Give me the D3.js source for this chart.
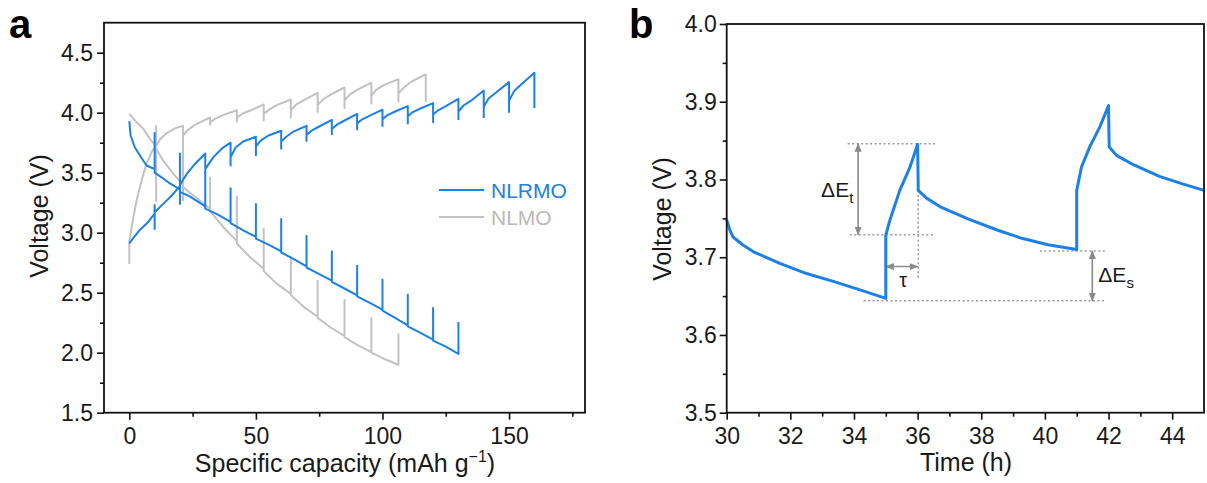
<!DOCTYPE html>
<html><head><meta charset="utf-8">
<script src="https://cdn.jsdelivr.net/npm/d3@7"></script>
<style>
body{margin:0;background:#fff;}
svg{display:block;font-family:"Liberation Sans",Arial,sans-serif;}
</style></head><body>
<svg id="c" width="1207" height="483"></svg>
<script>
// ---------- Panel a data: [capacity (mAh/g), voltage (V)] ----------
const nlrmoCharge = [
[0,2.91],[1,2.94],[4,3.02],[7.5,3.09],[10,3.16],
[10,3.03],[10,3.23],[10,3.17],
[13.4,3.24],[16.8,3.31],[20,3.39],
[20,3.24],[20,3.40],
[22.7,3.49],[26,3.575],[30,3.66],
[30,3.50],[30,3.53],
[33.2,3.63],[36.5,3.70],[40,3.75],
[40,3.56],[40,3.63],
[42,3.71],[45,3.76],[50,3.80],
[50,3.645],[50,3.72],
[52,3.77],[55,3.81],[60,3.85],
[60,3.70],[60,3.76],
[62,3.80],[65,3.845],[70,3.89],
[70,3.765],[70,3.815],
[72,3.85],[75,3.885],[80,3.94],
[80,3.82],[80,3.865],
[82,3.90],[85,3.935],[90,3.99],
[90,3.86],[90,3.91],
[92,3.945],[95,3.975],[100,4.025],
[100,3.89],[100,3.945],
[102,3.98],[105,4.01],[110,4.055],
[110,3.91],[110,3.97],
[112,4.005],[115,4.035],[120,4.08],
[120,3.92],[120,3.985],
[122,4.02],[125,4.055],[130,4.115],
[130,3.945],[130,4.01],
[132,4.06],[135,4.10],[140,4.185],
[140,3.963],[140,4.05],
[142,4.12],[145,4.17],[150,4.255],
[150,4.005],[150,4.10],
[152,4.18],[155,4.24],[160,4.333],
[160,4.04]
];
const nlrmoDischarge = [
[0,3.93],[0.5,3.81],[2.2,3.71],[4.9,3.62],[6.8,3.56],[10,3.53],
[10,3.83],[10,3.50],
[11.5,3.48],[15.4,3.42],[20,3.36],
[20,3.66],[20,3.34],
[24,3.30],[30,3.22],
[30,3.50],[30,3.20],
[35,3.15],[40,3.09],
[40,3.37],[40,3.08],
[45,3.02],[50,2.965],
[50,3.24],[50,2.95],
[55,2.90],[60,2.845],
[60,3.115],[60,2.835],
[65,2.78],[70,2.72],
[70,2.975],[70,2.71],
[75,2.655],[80,2.60],
[80,2.845],[80,2.59],
[85,2.535],[90,2.478],
[90,2.725],[90,2.47],
[95,2.415],[100,2.358],
[100,2.61],[100,2.35],
[105,2.29],[110,2.228],
[110,2.483],[110,2.22],
[115,2.165],[120,2.108],
[120,2.372],[120,2.10],
[125,2.05],[130,1.99],
[130,2.255]
];
const nlmoCharge = [
[0,2.74],[0,2.93],[0.5,2.99],[1.6,3.13],[2.9,3.27],[4.9,3.44],[6.8,3.575],[8.8,3.67],[10.6,3.73],
[10.6,3.26],[10.6,3.72],
[12.2,3.78],[14.8,3.83],[18.1,3.87],[21.2,3.89],
[21.2,3.27],[21.2,3.81],
[23,3.855],[26,3.90],[31.9,3.96],
[31.9,3.90],[31.9,3.92],
[34,3.95],[37,3.98],[42.5,4.02],
[42.5,3.925],[42.5,3.96],
[45,3.995],[48,4.02],[53.1,4.07],
[53.1,3.935],[53.1,3.99],
[55.5,4.03],[58.5,4.065],[63.8,4.11],
[63.8,3.96],[63.8,4.02],
[66,4.07],[69,4.105],[74.4,4.165],
[74.4,4.005],[74.4,4.065],
[76.5,4.11],[79.5,4.15],[85,4.21],
[85,4.04],[85,4.10],
[87,4.15],[90,4.19],[95.6,4.25],
[95.6,4.075],[95.6,4.14],
[97.5,4.19],[100.5,4.23],[106.3,4.28],
[106.3,4.094],[106.3,4.16],
[108.5,4.21],[111.5,4.26],[117.1,4.32],
[117.1,4.09]
];
const nlmoDischarge = [
[0,3.99],[2.9,3.92],[5.5,3.867],[8.2,3.78],[10.6,3.72],
[10.6,3.89],[10.6,3.70],
[13.4,3.60],[17.4,3.49],[21.2,3.40],
[21.2,3.70],[21.2,3.38],
[25.3,3.31],[31.9,3.20],
[31.9,3.46],[31.9,3.18],
[37,3.05],[42.5,2.93],
[42.5,3.30],[42.5,2.91],
[47.5,2.80],[53.1,2.70],
[53.1,3.03],[53.1,2.68],
[58,2.58],[63.8,2.49],
[63.8,2.80],[63.8,2.48],
[69,2.38],[74.4,2.30],
[74.4,2.60],[74.4,2.29],
[79.5,2.21],[85,2.14],
[85,2.44],[85,2.13],
[90,2.065],[95.6,2.005],
[95.6,2.29],[95.6,2.0],
[101,1.945],[106.3,1.90],
[106.3,2.16]
];
const seriesNames = ["NLRMO","NLMO"];
const capTicks = [0,50,100,150];
const capMinor = [25,75,125,175];
const voltTicksA = [1.5,2.0,2.5,3.0,3.5,4.0,4.5];
const voltMinorA = [1.75,2.25,2.75,3.25,3.75,4.25];

// ---------- Panel b data: [time (h), voltage (V)] ----------
const gittCurve = [
[30,3.748],[30.1,3.735],[30.2,3.726],[30.5,3.716],[30.84,3.707],[31.67,3.692],[32.51,3.679],[33.35,3.669],[34.19,3.658],[35.0,3.647],
[35.0,3.728],[35.13,3.748],[35.44,3.786],[35.76,3.816],[36.0,3.845],
[36.02,3.786],[36.28,3.776],[36.75,3.764],[37.6,3.749],[38.5,3.735],[39.3,3.724],[40.1,3.716],[41.0,3.710],
[41.0,3.786],[41.15,3.816],[41.41,3.842],[41.73,3.868],[42.0,3.895],
[42.02,3.842],[42.25,3.831],[42.78,3.819],[43.6,3.804],[44.35,3.794],[45.0,3.786]
];
const timeTicks = [30,32,34,36,38,40,42,44];
const timeMinor = [31,33,35,37,39,41,43];
const voltTicksB = [3.5,3.6,3.7,3.8,3.9,4.0];
const voltMinorB = [3.55,3.65,3.75,3.85,3.95];
// guide lines: [t1, t2, V] horizontal; [t, V1, V2] vertical
const guideH = [[33.8,36.6,3.846],[33.87,36.55,3.729],[34.3,41.9,3.644],[39.84,41.88,3.708]];
const guideV = [[36.02,3.786,3.671]];
// arrows
const arrowEt = [34.13, 3.846, 3.729];
const arrowTau = [3.688, 35.0, 36.0];
const arrowEs = [41.49, 3.708, 3.644];

const BLUE = "#1c80e4";
const GRAY = "#c2c2c2";
const AGRAY = "#8a8a8a";
const svg = d3.select("#c");

svg.append("defs").append("marker")
  .attr("id","ah").attr("viewBox","0 0 10 10").attr("refX",9).attr("refY",5)
  .attr("markerWidth",9).attr("markerHeight",9).attr("markerUnits","userSpaceOnUse")
  .attr("orient","auto-start-reverse")
  .append("path").attr("d","M0,1 L10,5 L0,9 Z").attr("fill",AGRAY);

function axes(g, x, y, xt, xm, yt, ym, xfmt, yfmt, ypad){
  const [x0,x1] = x.range(), [y0,y1] = y.range();
  const xa = g.append("g").attr("transform",`translate(0,${y0})`)
    .call(d3.axisBottom(x).tickValues(xt).tickSize(7).tickPadding(8).tickFormat(xfmt).tickSizeOuter(0));
  const xb = g.append("g").attr("transform",`translate(0,${y0})`)
    .call(d3.axisBottom(x).tickValues(xm).tickSize(4).tickFormat("").tickSizeOuter(0));
  const ya = g.append("g").attr("transform",`translate(${x0},0)`)
    .call(d3.axisLeft(y).tickValues(yt).tickSize(7).tickPadding(ypad).tickFormat(yfmt).tickSizeOuter(0));
  const yb = g.append("g").attr("transform",`translate(${x0},0)`)
    .call(d3.axisLeft(y).tickValues(ym).tickSize(4).tickFormat("").tickSizeOuter(0));
  [xa,xb,ya,yb].forEach(a=>{
    a.select(".domain").remove();
    a.selectAll("line").attr("stroke","#111").attr("stroke-width",1.6);
    a.selectAll("text").attr("font-size",23).attr("fill","#1a1a1a")
      .attr("font-family","'Liberation Sans',Arial,sans-serif");
  });
  g.append("rect").attr("x",x0).attr("y",y1).attr("width",x1-x0).attr("height",y0-y1)
    .attr("fill","none").attr("stroke","#111").attr("stroke-width",1.8);
}

// ---------- Panel a ----------
const xA = d3.scaleLinear().domain([-10,180]).range([104,585]);
const yA = d3.scaleLinear().domain([1.5,4.75]).range([412.7,22.7]);
const gA = svg.append("g");
const lineA = d3.line().x(d=>xA(d[0])).y(d=>yA(d[1]));
[[nlmoCharge,GRAY],[nlmoDischarge,GRAY],[nlrmoCharge,BLUE],[nlrmoDischarge,BLUE]].forEach(([d,c])=>{
  gA.append("path").datum(d).attr("d",lineA).attr("fill","none").attr("stroke",c)
    .attr("stroke-width",2).attr("stroke-linejoin","round");
});
axes(gA, xA, yA, capTicks, capMinor, voltTicksA, voltMinorA, d3.format("d"), d3.format(".1f"), 4);

// legend
const legend = gA.append("g");
[[seriesNames[0],BLUE,190],[seriesNames[1],GRAY,217]].forEach(([n,c,yy])=>{
  legend.append("line").attr("x1",439).attr("x2",484).attr("y1",yy).attr("y2",yy)
    .attr("stroke",c).attr("stroke-width",2.2);
  legend.append("text").attr("x",491).attr("y",yy).attr("dy","0.36em")
    .attr("font-size",21).attr("fill",c === GRAY ? "#b9b9b9" : c).text(n);
});

// titles
const xtA = gA.append("text").attr("x",345).attr("y",472).attr("text-anchor","middle")
  .attr("font-size",25).attr("fill","#1a1a1a");
xtA.append("tspan").text("Specific capacity (mAh g");
xtA.append("tspan").attr("font-size",16).attr("dy",-10).text("\u22121");
xtA.append("tspan").attr("dy",10).text(")");
gA.append("text").attr("transform","translate(48,216) rotate(-90)").attr("text-anchor","middle")
  .attr("font-size",25).attr("fill","#1a1a1a").text("Voltage (V)");
svg.append("text").attr("x",9).attr("y",38).attr("font-size",40).attr("font-weight","bold").text("a");

// ---------- Panel b ----------
const xB = d3.scaleLinear().domain([30,45]).range([726.7,1204]);
const yB = d3.scaleLinear().domain([3.5,4.0]).range([412.7,24]);
const gB = svg.append("g");

guideH.forEach(([t1,t2,v])=>{
  gB.append("line").attr("x1",xB(t1)).attr("x2",xB(t2)).attr("y1",yB(v)).attr("y2",yB(v))
    .attr("stroke","#9a9a9a").attr("stroke-width",1.5).attr("stroke-dasharray","2,2.5");
});
guideV.forEach(([t,v1,v2])=>{
  gB.append("line").attr("x1",xB(t)).attr("x2",xB(t)).attr("y1",yB(v1)).attr("y2",yB(v2))
    .attr("stroke","#9a9a9a").attr("stroke-width",1.5).attr("stroke-dasharray","2,2.5");
});
function arrow(x1,y1,x2,y2){
  gB.append("line").attr("x1",x1).attr("y1",y1).attr("x2",x2).attr("y2",y2)
    .attr("stroke",AGRAY).attr("stroke-width",1.6)
    .attr("marker-start","url(#ah)").attr("marker-end","url(#ah)");
}
arrow(xB(arrowEt[0]),yB(arrowEt[1]),xB(arrowEt[0]),yB(arrowEt[2]));
arrow(xB(arrowTau[1]),yB(arrowTau[0]),xB(arrowTau[2]),yB(arrowTau[0]));
arrow(xB(arrowEs[0]),yB(arrowEs[1]),xB(arrowEs[0]),yB(arrowEs[2]));

const lineB = d3.line().x(d=>xB(d[0])).y(d=>yB(d[1]));
gB.append("path").datum(gittCurve).attr("d",lineB).attr("fill","none").attr("stroke",BLUE)
  .attr("stroke-width",3).attr("stroke-linejoin","round");

axes(gB, xB, yB, timeTicks, timeMinor, voltTicksB, voltMinorB, d3.format("d"), d3.format(".1f"), 3);

// annotation labels
const lEt = gB.append("text").attr("x",xB(33.98)).attr("y",yB(3.777)).attr("text-anchor","end")
  .attr("font-size",21).attr("fill","#1a1a1a");
lEt.append("tspan").text("\u0394E");
lEt.append("tspan").attr("font-size",15).attr("dy",6).text("t");
gB.append("text").attr("x",xB(35.55)).attr("y",yB(3.662)).attr("text-anchor","middle")
  .attr("font-size",20).attr("fill","#1a1a1a").text("\u03c4");
const lEs = gB.append("text").attr("x",xB(41.68)).attr("y",yB(3.668)).attr("text-anchor","start")
  .attr("font-size",21).attr("fill","#1a1a1a");
lEs.append("tspan").text("\u0394E");
lEs.append("tspan").attr("font-size",15).attr("dy",6).text("s");

gB.append("text").attr("x",966).attr("y",471).attr("text-anchor","middle")
  .attr("font-size",25).attr("fill","#1a1a1a").text("Time (h)");
gB.append("text").attr("transform","translate(671,219) rotate(-90)").attr("text-anchor","middle")
  .attr("font-size",25).attr("fill","#1a1a1a").text("Voltage (V)");
svg.append("text").attr("x",629).attr("y",38).attr("font-size",40).attr("font-weight","bold").text("b");
</script>
</body></html>
